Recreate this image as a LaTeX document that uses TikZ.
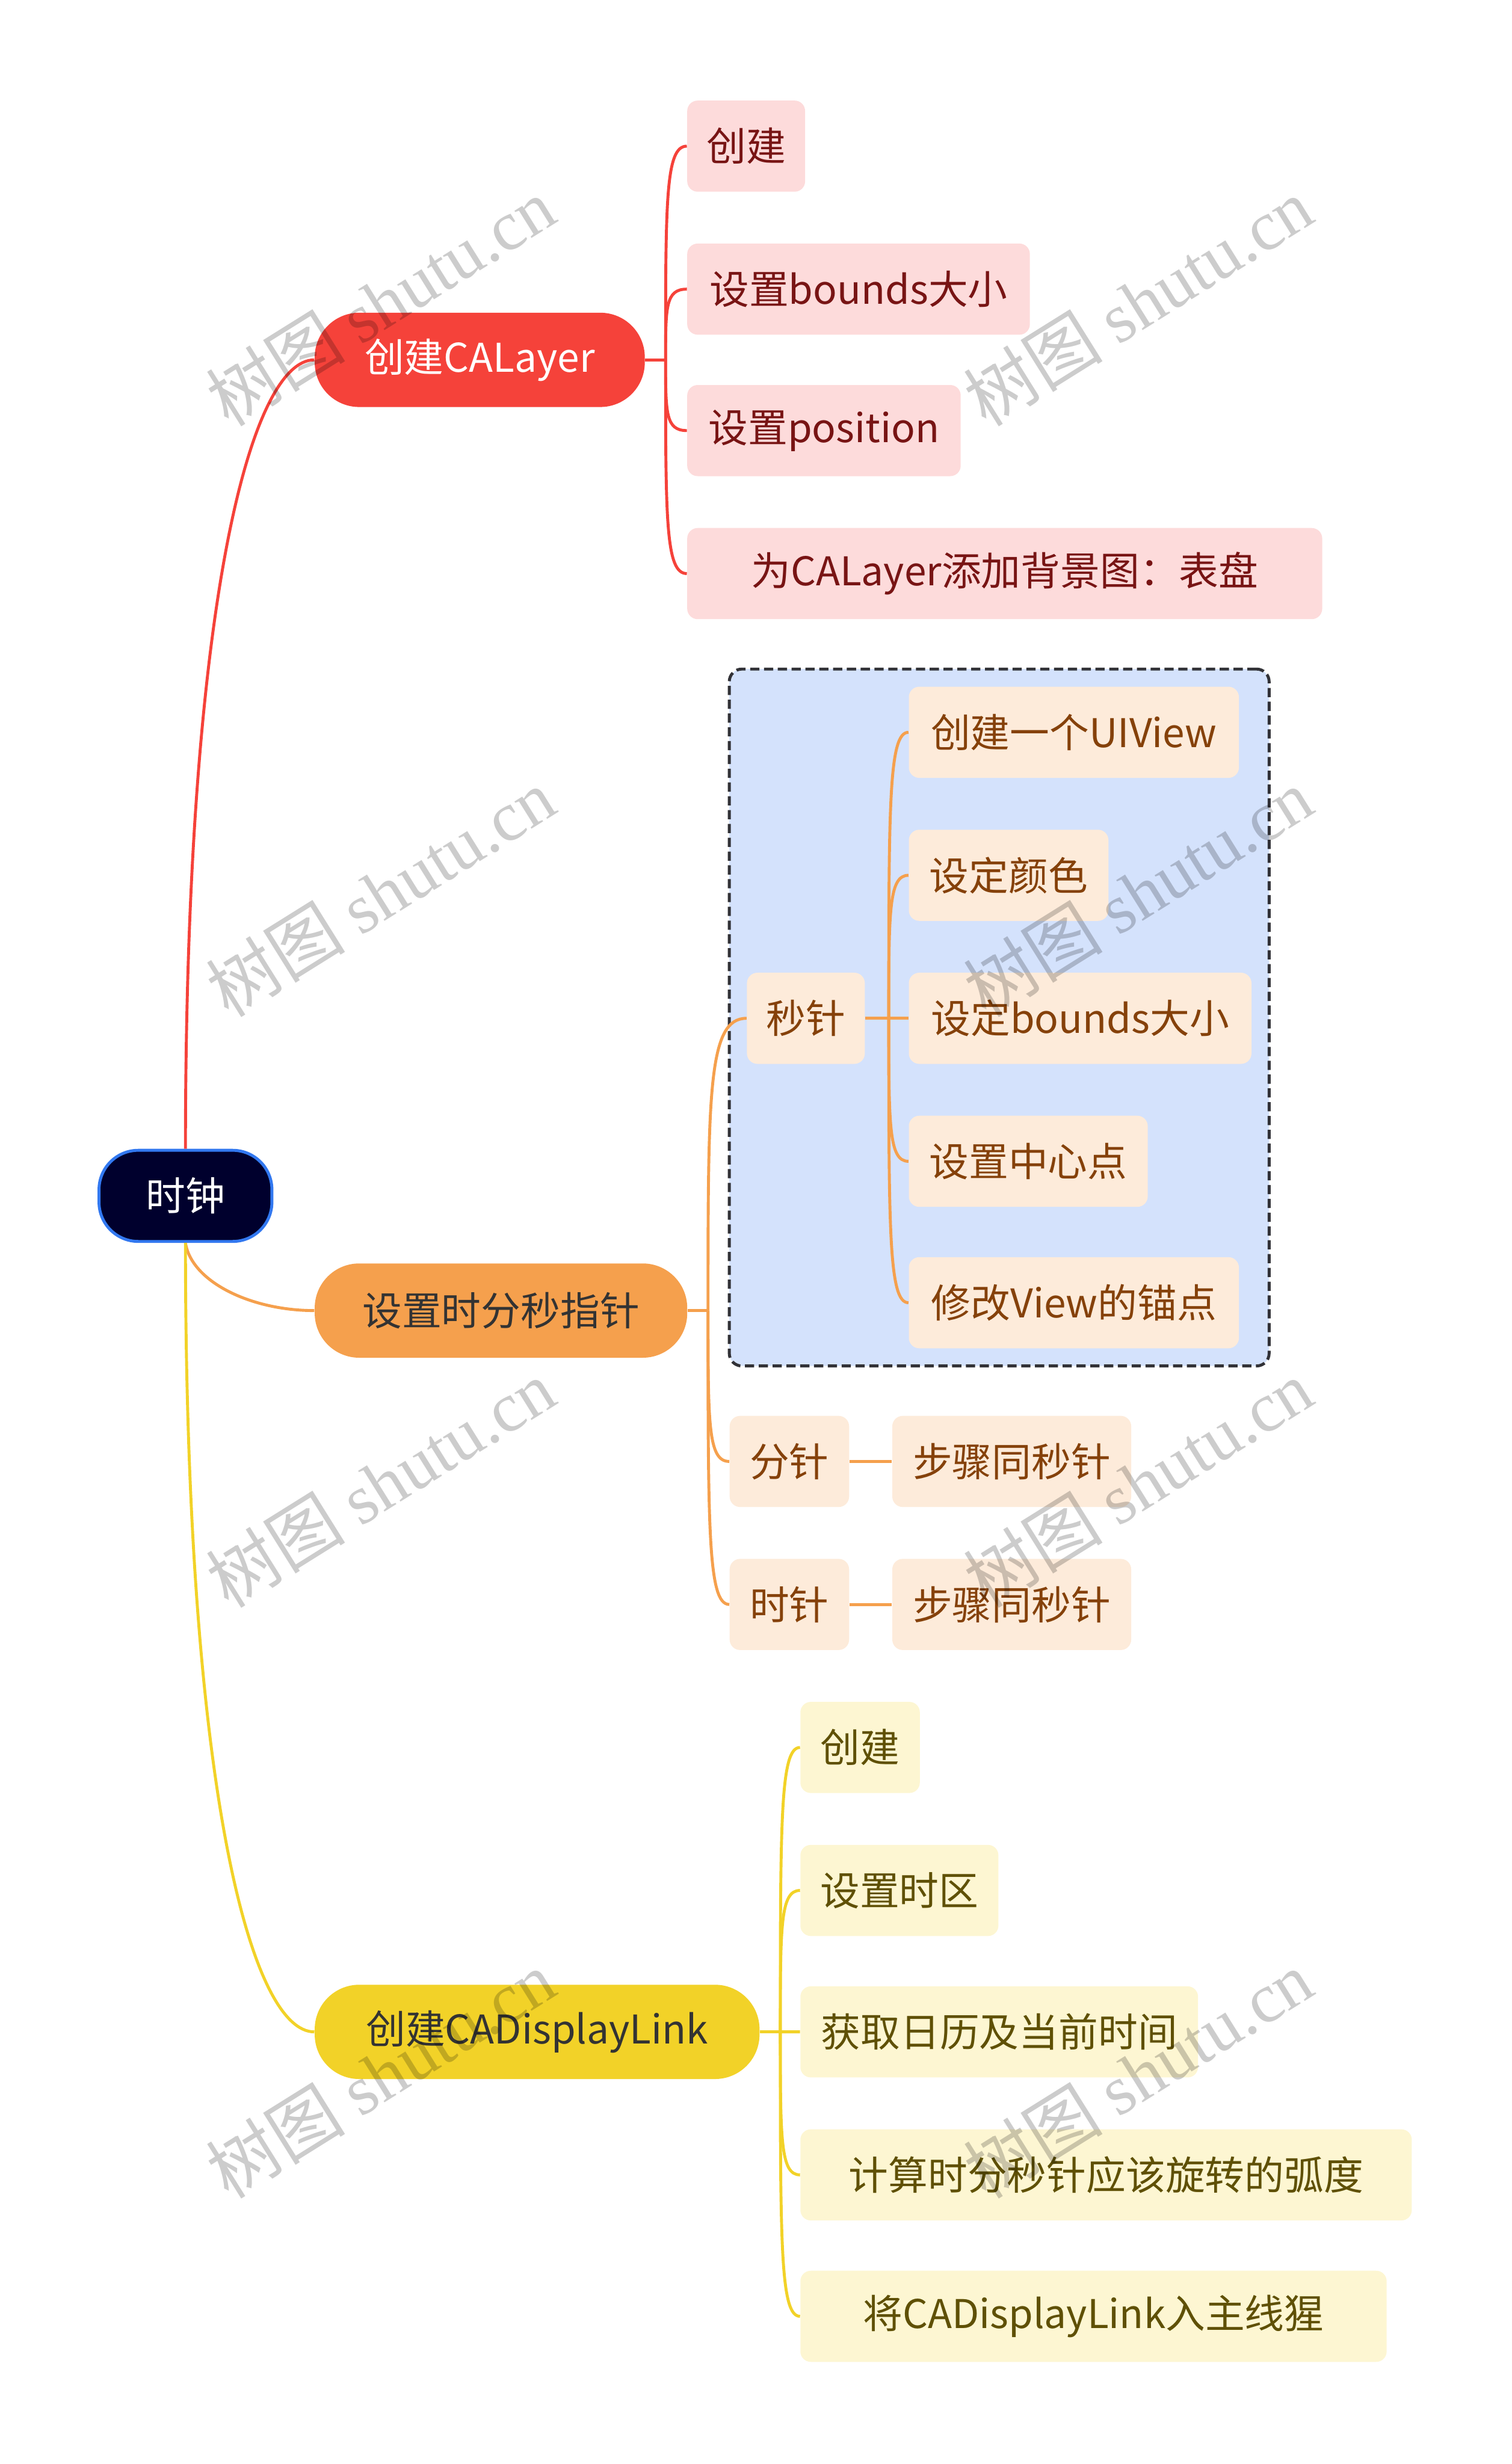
\documentclass[tikz,border=0pt]{standalone}
\usepackage{fontspec}
\setmainfont{Noto Sans CJK SC}
\newfontfamily\wmlatin{Liberation Serif}
\newfontfamily\wmcjk{Noto Sans CJK SC}
\usetikzlibrary{positioning,calc,fit,backgrounds}
\definecolor{RootNavy}{RGB}{0,0,45}
\definecolor{RootBlue}{RGB}{50,120,240}
\definecolor{LayerRed}{RGB}{245,66,58}
\definecolor{LayerPink}{RGB}{253,219,219}
\definecolor{LayerText}{RGB}{120,20,20}
\definecolor{HandOrange}{RGB}{245,160,77}
\definecolor{HandPeach}{RGB}{253,235,218}
\definecolor{HandText}{RGB}{133,65,10}
\definecolor{SecBlue}{RGB}{212,226,252}
\definecolor{FrameGray}{RGB}{50,50,55}
\definecolor{LinkYellow}{RGB}{242,210,40}
\definecolor{LinkCream}{RGB}{253,246,210}
\definecolor{LinkText}{RGB}{95,80,5}
\definecolor{MainText}{RGB}{51,51,51}
\tikzset{
  labelfont/.style={font=\fontsize{21.5}{26}\selectfont},
  rootbox/.style={labelfont,draw=RootBlue,line width=1.6pt,fill=RootNavy,text=white,
    rounded corners=0.75cm,minimum height=1.74cm,minimum width=3.3cm,inner sep=0pt},
  mainbox/.style={labelfont,rounded corners=0.85cm,minimum height=1.8cm,inner sep=0pt},
  redmain/.style={mainbox,fill=LayerRed,text=white},
  orangemain/.style={mainbox,fill=HandOrange,text=MainText},
  yellowmain/.style={mainbox,fill=LinkYellow,text=MainText},
  leafbox/.style={labelfont,rounded corners=0.2cm,minimum height=1.74cm,inner sep=0pt,align=center},
  redleaf/.style={leafbox,fill=LayerPink,text=LayerText},
  peachleaf/.style={leafbox,fill=HandPeach,text=HandText},
  creamleaf/.style={leafbox,fill=LinkCream,text=LinkText},
  secframe/.style={draw=FrameGray,fill=SecBlue,line width=1.6pt,dash pattern=on 5pt off 2.5pt,
    rounded corners=0.24cm,inner sep=0.33cm},
  redline/.style={draw=LayerRed,line width=1.6pt},
  orangeline/.style={draw=HandOrange,line width=1.6pt},
  yellowline/.style={draw=LinkYellow,line width=1.6pt},
  elbow/.style={to path={.. controls ($(\tikztostart)!0.75!(\tikztostart|-\tikztotarget)$)
    and (\tikztostart|-\tikztotarget) .. (\tikztotarget)}},
  wmark/.style={text=black,text opacity=0.2,rotate=32,inner sep=0pt}
}
\begin{document}
\begin{tikzpicture}[x=0.03cm,y=-0.03cm]
  \useasboundingbox (0,0) rectangle (962,1568);
  % root and main topics
  \node[rootbox] (clock) at (118,761) {时钟};
  \node[redmain,minimum width=6.3cm,anchor=west] (layer) at (200,229) {创建CALayer};
  \node[orangemain,minimum width=7.11cm,anchor=west] (hands) at (200,834) {设置时分秒指针};
  \node[yellowmain,minimum width=8.49cm,anchor=west] (link) at (200,1293) {创建CADisplayLink};

  % CALayer steps
  \node[redleaf,minimum width=2.25cm,anchor=west] (l1) at (437,93) {创建};
  \node[redleaf,minimum width=6.54cm,anchor=west] (l2) at (437,184) {设置bounds大小};
  \node[redleaf,minimum width=5.22cm,anchor=west] (l3) at (437,274) {设置position};
  \node[redleaf,minimum width=12.12cm,anchor=west] (l4) at (437,365) {为CALayer添加背景图：表盘};

  % hands
  \node[peachleaf,minimum width=2.25cm,anchor=west] (sec) at (475,648) {秒针};
  \node[peachleaf,minimum width=6.3cm,anchor=west] (s1) at (578,466) {创建一个UIView};
  \node[peachleaf,minimum width=3.81cm,anchor=west] (s2) at (578,557) {设定颜色};
  \node[peachleaf,minimum width=6.54cm,anchor=west] (s3) at (578,648) {设定bounds大小};
  \node[peachleaf,minimum width=4.56cm,anchor=west] (s4) at (578,739) {设置中心点};
  \node[peachleaf,minimum width=6.3cm,anchor=west] (s5) at (578,829) {修改View的锚点};
  \node[peachleaf,minimum width=2.28cm,anchor=west] (minute) at (464,930) {分针};
  \node[peachleaf,minimum width=4.56cm,right=0.81cm of minute] (minstep) {步骤同秒针};
  \node[peachleaf,minimum width=2.28cm,anchor=west] (hour) at (464,1021) {时针};
  \node[peachleaf,minimum width=4.56cm,right=0.81cm of hour] (hourstep) {步骤同秒针};

  % CADisplayLink steps
  \node[creamleaf,minimum width=2.28cm,anchor=west] (k1) at (509,1112) {创建};
  \node[creamleaf,minimum width=3.78cm,anchor=west] (k2) at (509,1203) {设置时区};
  \node[creamleaf,minimum width=7.59cm,anchor=west] (k3) at (509,1293) {获取日历及当前时间};
  \node[creamleaf,minimum width=11.67cm,anchor=west] (k4) at (509,1384) {计算时分秒针应该旋转的弧度};
  \node[creamleaf,minimum width=11.19cm,anchor=west] (k5) at (509,1474) {将CADisplayLink入主线猩};

  \begin{scope}[on background layer]
    \node[secframe,fit=(sec)(s1)(s3)(s5)] (secbox) {};
  \end{scope}

  % root connectors
  \draw[redline] (clock.north) .. controls +(0,-350) and +(-40,0) .. (layer.west);
  \draw[orangeline] (clock.south) .. controls +(4,25) and +(-40,0) .. (hands.west);
  \draw[yellowline] (clock.south) .. controls +(0,350) and +(-40,0) .. (link.west);

  % CALayer connectors
  \coordinate (jl) at ($(layer.east)+(13,0)$);
  \draw[redline] (layer.east) -- (jl);
  \draw[redline] (jl) to[elbow] (l1.west);
  \draw[redline] (jl) to[elbow] (l2.west);
  \draw[redline] (jl) to[elbow] (l3.west);
  \draw[redline] (jl) to[elbow] (l4.west);

  % hand connectors
  \coordinate (jh) at ($(hands.east)+(13,0)$);
  \draw[orangeline] (hands.east) -- (jh);
  \draw[orangeline] (jh) to[elbow] (sec.west);
  \draw[orangeline] (jh) to[elbow] (minute.west);
  \draw[orangeline] (jh) to[elbow] (hour.west);
  \coordinate (js) at ($(sec.east)+(15,0)$);
  \draw[orangeline] (sec.east) -- (js);
  \draw[orangeline] (js) to[elbow] (s1.west);
  \draw[orangeline] (js) to[elbow] (s2.west);
  \draw[orangeline] (js) to[elbow] (s3.west);
  \draw[orangeline] (js) to[elbow] (s4.west);
  \draw[orangeline] (js) to[elbow] (s5.west);
  \draw[orangeline] (minute) -- (minstep);
  \draw[orangeline] (hour) -- (hourstep);

  % CADisplayLink connectors
  \coordinate (jk) at ($(link.east)+(13,0)$);
  \draw[yellowline] (link.east) -- (jk);
  \draw[yellowline] (jk) to[elbow] (k1.west);
  \draw[yellowline] (jk) to[elbow] (k2.west);
  \draw[yellowline] (jk) to[elbow] (k3.west);
  \draw[yellowline] (jk) to[elbow] (k4.west);
  \draw[yellowline] (jk) to[elbow] (k5.west);

  % watermark
  \node[wmark] (wm1) at (242,192) {\fontsize{38}{40}\wmcjk 树图 \wmlatin shutu.cn};
  \node[wmark] (wm2) at (724,192) {\fontsize{38}{40}\wmcjk 树图 \wmlatin shutu.cn};
  \node[wmark] (wm3) at (242,568) {\fontsize{38}{40}\wmcjk 树图 \wmlatin shutu.cn};
  \node[wmark] (wm4) at (724,568) {\fontsize{38}{40}\wmcjk 树图 \wmlatin shutu.cn};
  \node[wmark] (wm5) at (242,944) {\fontsize{38}{40}\wmcjk 树图 \wmlatin shutu.cn};
  \node[wmark] (wm6) at (724,944) {\fontsize{38}{40}\wmcjk 树图 \wmlatin shutu.cn};
  \node[wmark] (wm7) at (242,1320) {\fontsize{38}{40}\wmcjk 树图 \wmlatin shutu.cn};
  \node[wmark] (wm8) at (724,1320) {\fontsize{38}{40}\wmcjk 树图 \wmlatin shutu.cn};
\end{tikzpicture}
\end{document}
